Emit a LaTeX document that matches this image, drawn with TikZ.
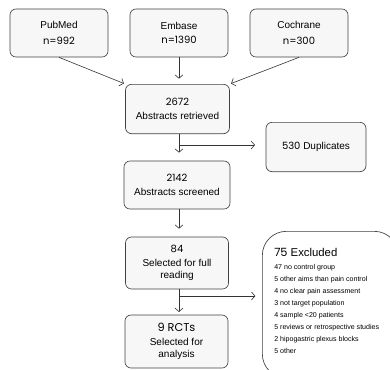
\documentclass[tikz,border=0pt]{standalone}
\usepackage{fontspec}
\setmainfont{Liberation Sans}
\newfontfamily\numfont{Poppins}
\usetikzlibrary{arrows.meta}

\begin{document}
\begin{tikzpicture}[x=0.75pt,y=-0.75pt,
  box/.style={draw=black!75,fill=black!3,rounded corners=4.5pt,line width=0.5pt,
    align=center,inner sep=0pt,font=\fontsize{7.5}{9}\selectfont},
  exbox/.style={draw=black!75,fill=white,rounded corners=18pt,line width=0.5pt,inner sep=0pt},
  flow/.style={-{Straight Barb[length=2.6pt,width=6pt]},black!80,line width=0.45pt},
]
\clip (0,0) rectangle (390,369);
\useasboundingbox (0,0) rectangle (390,369);
%\draw[step=10,gray,very thin] (0,0) grid (390,369); %background grid
%---------------------------------------------------
\node[box,minimum width=73.5pt,minimum height=36pt] (pubmed) at (59,33)
  {PubMed\\[3pt]{\numfont n=992}};
\node[box,minimum width=73.5pt,minimum height=36pt] (embase) at (179,33)
  {Embase\\[1pt]{\numfont n=1390}};
\node[box,minimum width=73.5pt,minimum height=36pt] (cochrane) at (299,33)
  {Cochrane\\[3pt]{\numfont n=300}};
%---------------------------------------------------
\node[box,minimum width=78pt,minimum height=37pt] (retrieved) at (177.5,109)
  {{\numfont 2672}\\[2pt]Abstracts retrieved};
\node[box,minimum width=75pt,minimum height=37pt] (duplicates) at (316,147)
  {{\numfont 530} Duplicates};
\node[box,minimum width=79.5pt,minimum height=36pt] (screened) at (177,185)
  {{\numfont 2142}\\[2pt]Abstracts screened};
\node[box,minimum width=77.25pt,minimum height=39pt] (full) at (177,263)
  {{\numfont 84}\\[1pt]Selected for full\\reading};
\node[box,minimum width=77.25pt,minimum height=39.75pt] (rcts) at (176.5,341.5)
  {{\numfont\fontsize{8.5}{9}\selectfont 9 RCTs}\\[1pt]Selected for\\analysis};
%---------------------------------------------------
\node[exbox,anchor=north west,minimum width=102pt,minimum height=110pt] (excluded) at (262,231) {};
\node[anchor=north west,align=left,inner sep=0pt,font=\fontsize{5.3}{9}\selectfont] (reasons) at (274,248)
  {{\fontsize{8.5}{9}\selectfont{\numfont 75} Excluded}\\[1pt]
   47 no control group\\
   5 other aims than pain control\\
   4 no clear pain assessment\\
   3 not target population\\
   4 sample <20 patients\\
   5 reviews or retrospective studies\\
   2 hipogastric plexus blocks\\
   5 other};
%---------------------------------------------------
\draw[flow,shorten >=1pt] (pubmed.south) -- (retrieved.north west);
\draw[flow,shorten >=4pt] (embase.south) -- (retrieved.north -| embase.south);
\draw[flow,shorten >=1pt] (cochrane.south) -- (retrieved.north east);
%---------------------------------------------------
\draw[flow,shorten >=6pt] (retrieved.south -| embase.south) -- (screened.north -| embase.south);
\coordinate (dupsplit) at (179,145);
\draw[flow,shorten >=8pt] (dupsplit) -- (duplicates.west |- dupsplit);
\draw[flow,shorten >=6pt] (screened.south -| embase.south) -- (full.north -| embase.south);
\draw[flow,shorten >=2pt] (full.south -| embase.south) -- (rcts.north -| embase.south);
\coordinate (exsplit) at (179,296);
\draw[flow,shorten >=5pt] (exsplit) -- (excluded.west |- exsplit);
\end{tikzpicture}
\end{document}
